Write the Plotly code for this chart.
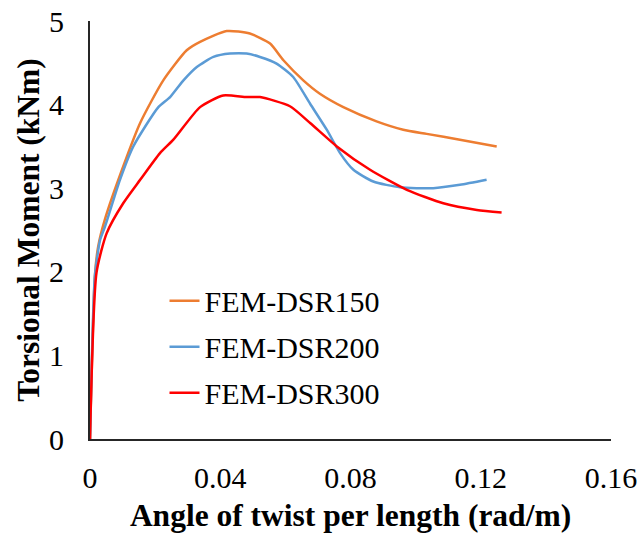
import plotly.graph_objects as go

# FEM-DSR150
x150 = [0, 0.0015, 0.0025, 0.0046, 0.0102, 0.0154, 0.0225, 0.0297, 0.0338, 0.042, 0.0491,
        0.0553, 0.0594, 0.0655, 0.0706, 0.0778, 0.088, 0.0962, 0.1034, 0.1136, 0.1249]
y150 = [0, 1.95, 2.3, 2.63, 3.26, 3.78, 4.29, 4.65, 4.75, 4.88, 4.85,
        4.73, 4.53, 4.29, 4.13, 3.97, 3.80, 3.70, 3.65, 3.58, 3.50]
# FEM-DSR200
x200 = [0, 0.0015, 0.0031, 0.0046, 0.0092, 0.0133, 0.021, 0.0246, 0.0287, 0.0328, 0.0379,
        0.043, 0.0481, 0.0522, 0.0573, 0.0624, 0.0676, 0.0727, 0.0768, 0.0809, 0.087,
        0.0952, 0.1054, 0.1136, 0.1218]
y200 = [0, 1.95, 2.38, 2.54, 3.10, 3.50, 3.97, 4.09, 4.29, 4.45, 4.57,
        4.61, 4.61, 4.57, 4.49, 4.33, 4.01, 3.70, 3.42, 3.22, 3.08,
        3.01, 3.00, 3.04, 3.10]
# FEM-DSR300
x300 = [0, 0.002, 0.0051, 0.0102, 0.0154, 0.0215, 0.0256, 0.0338, 0.0409, 0.0481,
        0.0522, 0.0614, 0.0676, 0.0758, 0.086, 0.0973, 0.1085, 0.1188, 0.1264]
y300 = [0, 1.99, 2.46, 2.82, 3.10, 3.42, 3.58, 3.97, 4.11, 4.09,
        4.09, 3.98, 3.78, 3.50, 3.22, 2.98, 2.82, 2.74, 2.71]

names = ["FEM-DSR150", "FEM-DSR200", "FEM-DSR300"]
colors = ["#ED7D31", "#5B9BD5", "#FF0000"]
xs = [x150, x200, x300]
ys = [y150, y200, y300]

xticks = [0, 0.04, 0.08, 0.12, 0.16]
xticklabels = ["0", "0.04", "0.08", "0.12", "0.16"]
yticks = [0, 1, 2, 3, 4, 5]

FONT = "Liberation Serif, Times New Roman, serif"
FS = 30
TFS = 31.5

fig = go.Figure()
legends = ["legend", "legend2", "legend3"]
for i in range(3):
    fig.add_trace(go.Scatter(x=xs[i], y=ys[i], mode="lines", name=names[i], showlegend=True,
                             line=dict(color=colors[i], width=2.5, shape="spline", smoothing=0.6),
                             legend=legends[i]))

leg_common = dict(font=dict(family=FONT, size=FS, color="#000000"), bgcolor="rgba(0,0,0,0)",
                  xanchor="left", yanchor="middle", x=0.143, borderwidth=0, visible=True)
fig.update_layout(
    width=639, height=535,
    showlegend=True,
    margin=dict(l=90, r=28, t=21, b=96),
    plot_bgcolor="white", paper_bgcolor="white",
    font=dict(family=FONT, size=FS, color="#000000"),
    legend=dict(y=(439 - 300.7) / 418, **leg_common),
    legend2=dict(y=(439 - 346.7) / 418, **leg_common),
    legend3=dict(y=(439 - 392.7) / 418, **leg_common),
    xaxis=dict(range=[0, 0.16], tickvals=xticks, ticktext=xticklabels, automargin=False,
               showgrid=False, zeroline=False, showline=True, linecolor="#262626", linewidth=2,
               ticks="", ticklabelstandoff=11, ticklabeloverflow="allow",
               tickfont=dict(family=FONT, size=FS, color="#000000"),
               title=dict(text="<b>Angle of twist per length (rad/m)</b>", standoff=11,
                          font=dict(family=FONT, size=TFS, color="#000000"))),
    yaxis=dict(range=[0, 5], tickvals=yticks, automargin=False,
               showgrid=False, zeroline=False, showline=True, linecolor="#262626", linewidth=2,
               ticks="", ticklabelstandoff=18, ticklabeloverflow="allow",
               tickfont=dict(family=FONT, size=FS, color="#000000"),
               title=dict(text="<b>Torsional Moment (kNm)</b>", standoff=0,
                          font=dict(family=FONT, size=TFS, color="#000000"))),
)

# remove the browser's default 8px page margin so the 639x535 figure fills the window exactly
fig.write_html("out.html", config={"displayModeBar": False},
               post_script="document.body.style.margin='0';document.body.style.overflow='hidden';")
